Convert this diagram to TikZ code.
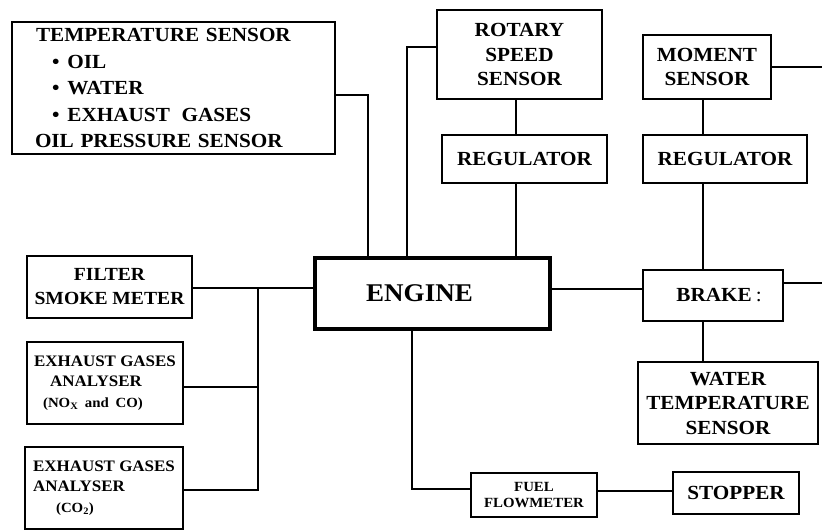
\documentclass[tikz,border=0pt]{standalone}
\usepackage{fontspec}
\setmainfont{Liberation Serif}[FakeStretch=1.06]
\begin{document}
\begin{tikzpicture}[x=1pt,y=-1pt,
  box/.style={draw, line width=1.6pt, inner sep=0pt, align=center,
    font=\bfseries\fontsize{20}{24.5}\selectfont},
  small/.style={font=\bfseries\fontsize{16}{20.5}\selectfont},
  link/.style={line width=1.8pt}]
\useasboundingbox (0,0) rectangle (822,531);
% boxes
\node[box, minimum width=323pt, minimum height=132pt, text width=277pt, align=left,
  font=\bfseries\fontsize{20}{26.5}\selectfont] (temp) at (173.5,88)
  {\hspace{1pt}TEMPERATURE SENSOR\\
   \hspace{17pt}•\hspace{8pt}OIL\\
   \hspace{17pt}•\hspace{8pt}WATER\\
   \hspace{17pt}•\hspace{8pt}EXHAUST\hspace{5pt} GASES\\
   OIL PRESSURE SENSOR};
\node[box, minimum width=165pt, minimum height=89pt] (rotary) at (519.5,54.5) {ROTARY\\SPEED\\SENSOR};
\node[box, minimum width=165pt, minimum height=48pt] (reg1) at (524.5,159) {REGULATOR};
\node[box, minimum width=128pt, minimum height=64pt] (moment) at (707,67) {MOMENT\\SENSOR};
\node[box, minimum width=164pt, minimum height=48pt] (reg2) at (725,159) {REGULATOR};
\node[box, line width=3.5pt, minimum width=235pt, minimum height=71pt,
  font=\bfseries\fontsize{25.5}{30}\selectfont] (engine) at (432.5,293.5) {ENGINE\hspace{26pt}};
\node[box, minimum width=140pt, minimum height=51pt] (brake) at (713,295.5) {\hspace{12pt}BRAKE\hspace{4pt}{\mdseries:}};
\node[box, minimum width=180pt, minimum height=82pt] (water) at (728,403) {WATER\\TEMPERATURE\\SENSOR};
\node[box, minimum width=126pt, minimum height=44pt,
  font=\bfseries\fontsize{14}{16}\selectfont] (flow) at (534,495) {FUEL\\FLOWMETER};
\node[box, minimum width=126pt, minimum height=42pt] (stopper) at (736,493) {STOPPER};
\node[box, minimum width=165pt, minimum height=62pt,
  font=\bfseries\fontsize{18.5}{24}\selectfont] (filter) at (109.5,287) {FILTER\\SMOKE METER};
\node[box, small, align=left, minimum width=156pt, minimum height=82pt] (ex1) at (105,383)
  {EXHAUST GASES\\
   \hspace{16pt}ANALYSER\\
   \hspace{9pt}{\fontsize{14}{20.5}\selectfont(NO\textsubscript{X}\hspace{3pt} and\hspace{3pt} CO)}};
\node[box, small, align=left, minimum width=158pt, minimum height=82pt] (ex2) at (104,488)
  {EXHAUST GASES\\
   ANALYSER\\
   \hspace{23pt}{\fontsize{14}{20.5}\selectfont(CO\textsubscript{2})}};
% junction coordinates
\coordinate (j1) at (368,95);
\coordinate (j2) at (407,47);
\coordinate (xa) at (516,0);
\coordinate (xb) at (703,0);
\coordinate (e1) at (822,67);
\coordinate (e2) at (822,283);
\coordinate (ya) at (0,289);
\coordinate (yb) at (0,288);
\coordinate (j3) at (412,489);
\coordinate (yc) at (0,491);
\coordinate (bus1) at (258,288);
\coordinate (bus2) at (258,490);
\coordinate (yd) at (0,387);
% connectors
\draw[link] (temp.east |- j1) -- (j1) -- (j1 |- engine.north);
\draw[link] (rotary.west |- j2) -- (j2) -- (j2 |- engine.north);
\draw[link] (rotary.south -| xa) -- (reg1.north -| xa);
\draw[link] (reg1.south -| xa) -- (engine.north -| xa);
\draw[link] (moment.east |- e1) -- (e1);
\draw[link] (moment.south -| xb) -- (reg2.north -| xb);
\draw[link] (reg2.south -| xb) -- (brake.north -| xb);
\draw[link] (engine.east |- ya) -- (brake.west |- ya);
\draw[link] (brake.east |- e2) -- (e2);
\draw[link] (brake.south -| xb) -- (water.north -| xb);
\draw[link] (engine.south -| j3) -- (j3) -- (flow.west |- j3);
\draw[link] (flow.east |- yc) -- (stopper.west |- yc);
\draw[link] (filter.east |- yb) -- (engine.west |- yb);
\draw[link] (bus1) -- (bus2) -- (ex2.east |- bus2);
\draw[link] (ex1.east |- yd) -- (bus1 |- yd);
\end{tikzpicture}
\end{document}
